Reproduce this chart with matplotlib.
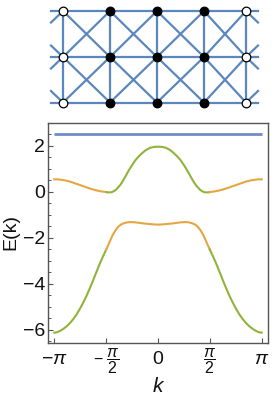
import numpy as np
import matplotlib
matplotlib.use("Agg")
import matplotlib.pyplot as plt
from matplotlib.transforms import ScaledTranslation

plt.rcParams['font.family'] = ['Liberation Sans', 'DejaVu Sans']
plt.rcParams['mathtext.fontset'] = 'custom'
plt.rcParams['mathtext.rm'] = 'Liberation Sans'
plt.rcParams['mathtext.it'] = 'Liberation Sans:italic'
plt.rcParams['mathtext.bf'] = 'Liberation Sans:bold'

# Flat band
flat_k = [-3.14, 3.14]
flat_E = [2.49, 2.49]

# Upper band: outer orange pieces and central green piece
upper_left_k = [-3.14, -3.04, -2.94, -2.84, -2.74, -2.64, -2.54, -2.44, -2.34, -2.24, -2.14, -2.04, -1.94, -1.84, -1.74, -1.64, -1.55]
upper_left_E = [0.54, 0.54, 0.52, 0.50, 0.47, 0.43, 0.38, 0.33, 0.28, 0.23, 0.18, 0.13, 0.09, 0.05, 0.02, 0.0, -0.02]
upper_mid_k = [-1.55, -1.48, -1.40, -1.33, -1.27, -1.20, -1.14, -1.08, -0.98, -0.88, -0.78, -0.68, -0.58, -0.48, -0.36, -0.24, -0.12, 0.0,
               0.12, 0.24, 0.36, 0.48, 0.58, 0.68, 0.78, 0.88, 0.98, 1.08, 1.14, 1.20, 1.27, 1.33, 1.40, 1.48, 1.55]
upper_mid_E = [-0.02, -0.03, -0.02, 0.03, 0.09, 0.20, 0.30, 0.43, 0.68, 0.94, 1.17, 1.38, 1.54, 1.68, 1.82, 1.91, 1.95, 1.96,
               1.95, 1.91, 1.82, 1.68, 1.54, 1.38, 1.17, 0.94, 0.68, 0.43, 0.30, 0.20, 0.09, 0.03, -0.02, -0.03, -0.02]
upper_right_k = [1.55, 1.64, 1.74, 1.84, 1.94, 2.04, 2.14, 2.24, 2.34, 2.44, 2.54, 2.64, 2.74, 2.84, 2.94, 3.04, 3.14]
upper_right_E = [-0.02, 0.0, 0.02, 0.05, 0.09, 0.13, 0.18, 0.23, 0.28, 0.33, 0.38, 0.43, 0.47, 0.50, 0.52, 0.54, 0.54]

# Lower band: outer green pieces and central orange piece
lower_left_k = [-3.14, -3.05, -2.96, -2.87, -2.77, -2.67, -2.57, -2.47, -2.37, -2.27, -2.17, -2.07, -1.98, -1.88, -1.78, -1.68, -1.57]
lower_left_E = [-6.13, -6.11, -6.05, -5.97, -5.86, -5.72, -5.55, -5.35, -5.11, -4.84, -4.55, -4.22, -3.91, -3.55, -3.19, -2.86, -2.52]
lower_mid_k = [-1.57, -1.50, -1.43, -1.37, -1.30, -1.24, -1.18, -1.10, -1.03, -0.93, -0.83, -0.70, -0.58, -0.44, -0.29, -0.15, 0.0,
               0.15, 0.29, 0.44, 0.58, 0.70, 0.83, 0.93, 1.03, 1.10, 1.18, 1.24, 1.30, 1.37, 1.43, 1.50, 1.57]
lower_mid_E = [-2.52, -2.30, -2.07, -1.88, -1.71, -1.58, -1.49, -1.41, -1.37, -1.33, -1.32, -1.33, -1.35, -1.38, -1.40, -1.42, -1.43,
               -1.42, -1.40, -1.38, -1.35, -1.33, -1.32, -1.33, -1.37, -1.41, -1.49, -1.58, -1.71, -1.88, -2.07, -2.30, -2.52]
lower_right_k = [1.57, 1.68, 1.78, 1.88, 1.98, 2.07, 2.17, 2.27, 2.37, 2.47, 2.57, 2.67, 2.77, 2.87, 2.96, 3.05, 3.14]
lower_right_E = [-2.52, -2.86, -3.19, -3.55, -3.91, -4.22, -4.55, -4.84, -5.11, -5.35, -5.55, -5.72, -5.86, -5.97, -6.05, -6.11, -6.13]

tick_pos = [-np.pi, -np.pi / 2, 0, np.pi / 2, np.pi]
tick_labels = [r'$-\pi$', r'$-\ \dfrac{\pi}{2}$', '0', r'$\dfrac{\pi}{2}$', r'$\pi$']
y_ticks = [-6, -4, -2, 0, 2]
y_labels = ['\u22126', '\u22124', '\u22122', '0', '2']
y_minor = [-6.5, -5.5, -5, -4.5, -3.5, -3, -2.5, -1.5, -1, -0.5, 0.5, 1, 1.5, 2.5]

# Lattice sketch (pixel coordinates of the picture)
col_x = [63, 110, 157, 204, 246]
row_y = [11, 57, 102.5]
line_x = [51, 258]
stub_dx = 12
stub_dy = 11.5

ORANGE = '#e5a642'
GREEN = '#8fb43c'
FLAT = '#6f8cc6'
BOND = '#5a87bd'
FRAME = '#555555'

W, H = 278, 398
fig = plt.figure(figsize=(W / 100, H / 100), dpi=100)

# Lattice
lat = fig.add_axes([0, 0, 1, 1])
lat.set_xlim(0, W)
lat.set_ylim(H, 0)
lat.axis('off')
lw = 1.6
for y in row_y:
    lat.plot(line_x, [y, y], color=BOND, lw=lw, zorder=1)
for x in col_x:
    lat.plot([x, x], [row_y[0], row_y[-1]], color=BOND, lw=lw, zorder=1)
for i in range(len(col_x) - 1):
    for j in range(len(row_y) - 1):
        lat.plot([col_x[i], col_x[i + 1]], [row_y[j], row_y[j + 1]], color=BOND, lw=lw, zorder=1)
        lat.plot([col_x[i], col_x[i + 1]], [row_y[j + 1], row_y[j]], color=BOND, lw=lw, zorder=1)
for x, d in ((col_x[0], -1), (col_x[-1], 1)):
    for j, y in enumerate(row_y):
        if j < len(row_y) - 1:
            lat.plot([x, x + d * stub_dx], [y, y + stub_dy], color=BOND, lw=lw, zorder=1)
        if j > 0:
            lat.plot([x, x + d * stub_dx], [y, y - stub_dy], color=BOND, lw=lw, zorder=1)
for i, x in enumerate(col_x):
    for y in row_y:
        outer = i in (0, len(col_x) - 1)
        lat.plot([x], [y], 'o', ms=6.2, mfc='white' if outer else 'black', mec='black', mew=0.9, zorder=3)

# Band plot
ax = fig.add_axes([48 / W, 1 - 343 / H, 220 / W, 220 / H])
ax.set_xlim(-3.33, 3.33)
ax.set_ylim(-6.58, 2.99)
lw2 = 1.5
ax.plot(flat_k, flat_E, color=FLAT, lw=2.0, solid_capstyle='butt')
ax.plot(upper_left_k, upper_left_E, color=ORANGE, lw=lw2)
ax.plot(upper_mid_k, upper_mid_E, color=GREEN, lw=lw2)
ax.plot(upper_right_k, upper_right_E, color=ORANGE, lw=lw2)
ax.plot(lower_left_k, lower_left_E, color=GREEN, lw=lw2)
ax.plot(lower_mid_k, lower_mid_E, color=ORANGE, lw=lw2)
ax.plot(lower_right_k, lower_right_E, color=GREEN, lw=lw2)

ax.set_xticks(tick_pos)
ax.set_xticklabels(tick_labels, va='top')
ax.set_yticks(y_ticks)
ax.set_yticklabels(y_labels)
ax.set_yticks(y_minor, minor=True)
ax.tick_params(axis='y', which='major', direction='in', length=3.5, width=0.8,
               color=FRAME, labelsize=14, labelcolor='#111111', pad=2)
ax.tick_params(axis='x', which='major', direction='in', length=3.5, width=0.8,
               color=FRAME, labelsize=14, labelcolor='#111111', pad=5.5)
ax.tick_params(axis='y', which='minor', direction='in', length=2, width=0.7, color=FRAME)
for i in (1, 3):
    tick = ax.xaxis.get_major_ticks()[i]
    tick.label1.set_fontsize(11.5)
    tick.label1.set_transform(tick.label1.get_transform()
                              + ScaledTranslation(0, 3 / 72, fig.dpi_scale_trans))
for s in ax.spines.values():
    s.set_color(FRAME)
    s.set_linewidth(1.0)
fig.text(158 / W, 1 - 387 / H, 'k', style='italic', fontsize=15, color='#111111', ha='center', va='center')
fig.text(11 / W, 1 - 232 / H, 'E(k)', rotation=90, fontsize=14, color='#111111', ha='center', va='center')

fig.savefig('out.png', dpi=100)
